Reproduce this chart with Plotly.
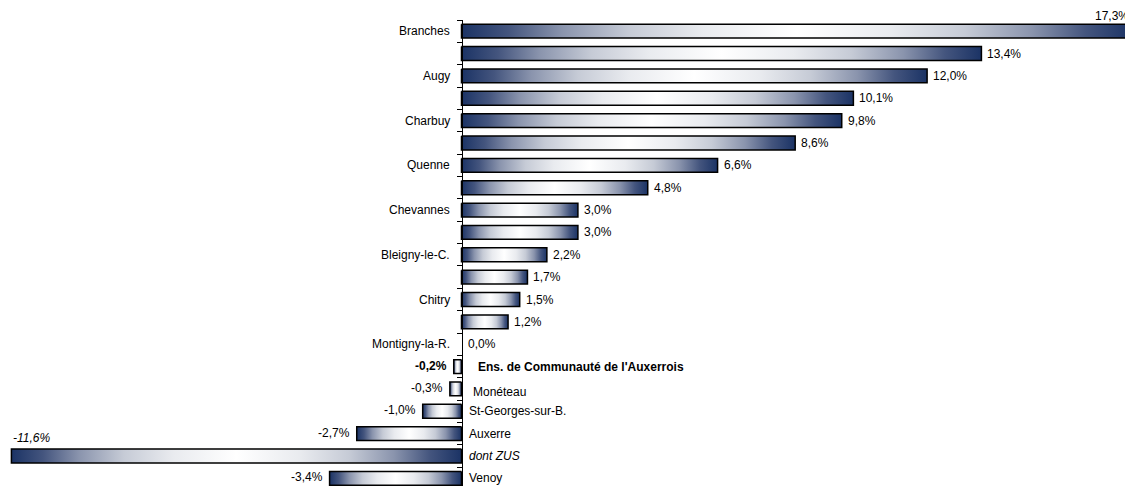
import plotly.graph_objects as go

# Population change by commune (%), top to bottom
communes = [
    "Branches", "", "Augy", "", "Charbuy", "", "Quenne", "",
    "Chevannes", "", "Bleigny-le-C.", "", "Chitry", "", "Montigny-la-R.",
    "Ens. de Communauté de l'Auxerrois", "Monéteau", "St-Georges-sur-B.",
    "Auxerre", "dont ZUS", "Venoy",
]
evolution = [
    17.3, 13.4, 12.0, 10.1, 9.8, 8.6, 6.6, 4.8,
    3.0, 3.0, 2.2, 1.7, 1.5, 1.2, 0.0,
    -0.2, -0.3, -1.0, -2.7, -11.6, -3.4,
]

# Text emphasis for particular rows
emphasis = {"Ens. de Communauté de l'Auxerrois": "b", "dont ZUS": "i"}
value_emphasis = {"Ens. de Communauté de l'Auxerrois": "b", "dont ZUS": "i"}
# Small label offsets (px) for the rows drawn right of the axis
label_nudge = {
    "Ens. de Communauté de l'Auxerrois": (14, 0),
    "Monéteau": (9, -3),
}

W, H = 1125, 486
AXIS_PX = 461.5
PX_PER_UNIT = 38.8
ROW_PX = 22.36
TOP = 20
HALF = 0.31
FONT = "Liberation Sans, Arial, sans-serif"
FONT_SIZE = 12

x_range = [-AXIS_PX / PX_PER_UNIT, (W - AXIS_PX) / PX_PER_UNIT]
y_range = [(H - TOP) / ROW_PX - 0.5, -0.5]

navy = "#1b3365"
gradient = [
    [0.0, navy], [0.07, "#44557e"], [0.15, "#8a94ad"], [0.25, "#c6cbd6"],
    [0.36, "#e9ebef"], [0.5, "#ffffff"], [0.64, "#e9ebef"], [0.75, "#c6cbd6"],
    [0.85, "#8a94ad"], [0.93, "#44557e"], [1.0, navy],
]


def fmt(v):
    return f"{v:.1f}".replace(".", ",") + "%"


def wrap(text, tag):
    return f"<{tag}>{text}</{tag}>" if tag else text


fig = go.Figure()

for i, v in enumerate(evolution):
    if v == 0:
        continue
    fig.add_trace(go.Scatter(
        x=[0, v, v, 0, 0],
        y=[i - HALF, i - HALF, i + HALF, i + HALF, i - HALF],
        mode="lines",
        fill="toself",
        fillgradient=dict(type="horizontal", colorscale=gradient),
        line=dict(color="black", width=1.5),
        hoverinfo="skip",
        showlegend=False,
    ))

i_max = max(range(len(evolution)), key=lambda k: evolution[k])
i_min = min(range(len(evolution)), key=lambda k: evolution[k])

annotations = []
for i, (name, v) in enumerate(zip(communes, evolution)):
    # category label on the side of the axis opposite to the bar
    if name:
        dx, dy = label_nudge.get(name, (5, 0))
        if v >= 0:
            annotations.append(dict(
                x=0, y=i, xref="x", yref="y", text=wrap(name, emphasis.get(name)),
                xanchor="right", yanchor="middle", xshift=-10, showarrow=False))
        else:
            annotations.append(dict(
                x=0, y=i, xref="x", yref="y", text=wrap(name, emphasis.get(name)),
                xanchor="left", yanchor="middle", xshift=dx, yshift=dy,
                showarrow=False))

    # value labels
    vtxt = wrap(fmt(v), value_emphasis.get(name))
    if i == i_max:
        # the longest bar runs past the right edge; its label sits above its end
        frac = (v - x_range[0]) / (x_range[1] - x_range[0])
        annotations.append(dict(
            x=frac, y=i - HALF, xref="paper", yref="y", text=vtxt,
            xanchor="right", yanchor="bottom", xshift=-2, yshift=-1,
            showarrow=False))
    elif i == i_min:
        annotations.append(dict(
            x=v, y=i - HALF, xref="x", yref="y", text=vtxt,
            xanchor="left", yanchor="bottom", xshift=0, yshift=2,
            showarrow=False))
    elif v >= 0:
        annotations.append(dict(
            x=v, y=i, xref="x", yref="y", text=vtxt,
            xanchor="left", yanchor="middle", xshift=4, showarrow=False))
    else:
        annotations.append(dict(
            x=v, y=i, xref="x", yref="y", text=vtxt,
            xanchor="right", yanchor="middle", xshift=-5, yshift=1,
            showarrow=False))

fig.update_layout(
    width=W, height=H,
    margin=dict(l=0, r=0, t=TOP, b=0),
    paper_bgcolor="white", plot_bgcolor="white",
    font=dict(family=FONT, size=FONT_SIZE, color="black"),
    annotations=annotations,
    xaxis=dict(range=x_range, visible=False, fixedrange=True),
    yaxis=dict(
        range=y_range, anchor="free", position=AXIS_PX / W,
        showline=True, linecolor="black", linewidth=1,
        ticks="outside", ticklen=5, tickwidth=1, tickcolor="black",
        tickvals=[k - 0.5 for k in range(len(communes) + 1)],
        showticklabels=False, showgrid=False, zeroline=False, fixedrange=True,
    ),
)

fig.write_html("out.html")
